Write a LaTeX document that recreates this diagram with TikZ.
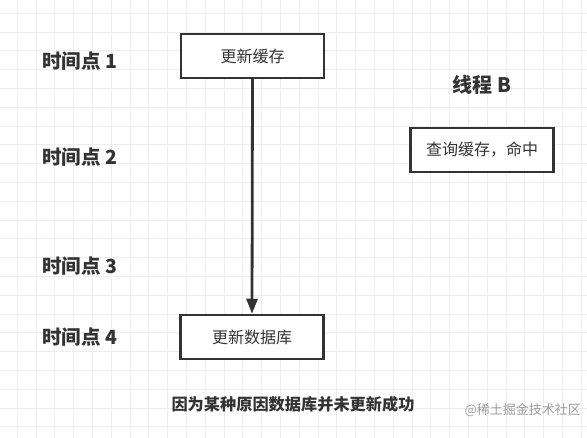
\documentclass[tikz,border=0pt]{standalone}
\usepackage{fontspec}
\setmainfont{Noto Sans CJK SC}
\usetikzlibrary{arrows.meta}
\definecolor{gridc}{HTML}{EDEDED}
\definecolor{ink}{HTML}{333333}
\tikzset{
  box/.style={draw=ink, line width=2.5pt, fill=white, minimum width=143pt, minimum height=44pt, inner sep=0pt, font=\fontsize{16}{19}\selectfont, text=ink},
  timelbl/.style={anchor=west, font=\fontsize{19.5}{22}\selectfont\bfseries, text=ink, inner sep=0pt},
  arr/.style={draw=ink, line width=2.8pt, -{Triangle[width=11pt,length=15pt]}}
}
\begin{document}
\begin{tikzpicture}[x=1pt,y=-1pt]
\path[fill=white] (0,0) rectangle (587,438);
\useasboundingbox (0,0) rectangle (587,438);
\foreach \i in {0,...,30} {
  \draw[gridc, line width=0.9pt] ({17.3+18.8*\i},0) -- ({17.3+18.8*\i},438);
}
\foreach \j in {0,...,23} {
  \draw[gridc, line width=0.9pt] (0,{13.3+18.8*\j}) -- (587,{13.3+18.8*\j});
}
\node[timelbl] (t1) at (42,61) {时间点 1};
\node[timelbl] (t2) at (42,157) {时间点 2};
\node[timelbl] (t3) at (42,266) {时间点 3};
\node[timelbl] (t4) at (42,337) {时间点 4};
\node[box] (cache) at (252.5,56) {更新缓存};
\node[box] (db) at (252,337) {更新数据库};
\node[box] (query) at (482,150) {查询缓存，命中};
\node[font=\fontsize{20}{23}\selectfont\bfseries, text=ink, inner sep=0pt] (tb) at (482,85) {线程 B};
\node[font=\fontsize{16.2}{19}\selectfont\bfseries, text=ink, inner sep=0pt] (note) at (293,404) {因为某种原因数据库并未更新成功};
\node[font=\fontsize{13}{15}\selectfont, text=black!38, inner sep=0pt, anchor=east] (wm) at (581,410) {@稀土掘金技术社区};
\draw[arr] (cache.south) -- (db.north);
\end{tikzpicture}
\end{document}
